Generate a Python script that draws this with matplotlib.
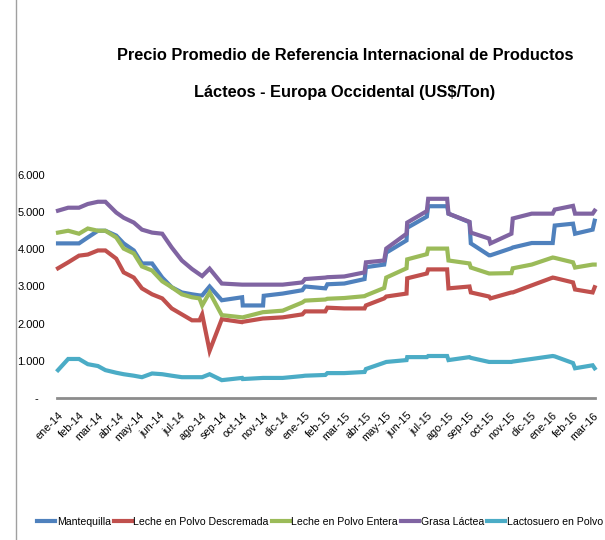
import matplotlib
matplotlib.use("Agg")
import matplotlib.pyplot as plt
from matplotlib.lines import Line2D
import pandas as pd

# --- datos (US$/Ton) ---
fechas = pd.to_datetime([
    "2014-01-01", "2014-01-16", "2014-02-01", "2014-02-14", "2014-03-01",
    "2014-03-12", "2014-03-28", "2014-04-08", "2014-04-23", "2014-05-05",
    "2014-05-20", "2014-06-04", "2014-06-18", "2014-07-03", "2014-07-18",
    "2014-07-29", "2014-08-02", "2014-08-13", "2014-08-31", "2014-09-30",
    "2014-10-01", "2014-10-31", "2014-11-01", "2014-11-29", "2014-12-28",
    "2015-01-01", "2015-01-31", "2015-02-03", "2015-02-28", "2015-03-30",
    "2015-04-01", "2015-04-28", "2015-05-01", "2015-05-31", "2015-06-01",
    "2015-06-30", "2015-07-02", "2015-07-30", "2015-08-01", "2015-09-01",
    "2015-09-03", "2015-09-30", "2015-10-02", "2015-11-02", "2015-11-04",
    "2015-12-02", "2016-01-02", "2016-01-05", "2016-02-01", "2016-02-04",
    "2016-03-01", "2016-03-04",
])

mantequilla = [
    4160, 4160, 4160, 4320, 4500, 4500, 4370, 4160, 3970, 3620,
    3620, 3240, 2980, 2840, 2790, 2760, 2760, 3000, 2630, 2710,
    2490, 2490, 2750, 2810, 2900, 3000, 2950, 3060, 3080, 3200,
    3520, 3590, 3910, 4240, 4580, 4880, 5160, 5160, 4960, 4730,
    4160, 3840, 3840, 4030, 4050, 4170, 4170, 4640, 4690, 4420,
    4530, 4770,
]
descremada = [
    3490, 3650, 3830, 3860, 3970, 3970, 3750, 3380, 3240, 2950,
    2790, 2680, 2410, 2250, 2090, 2090, 2250, 1270, 2120, 2040,
    2050, 2140, 2140, 2170, 2250, 2330, 2330, 2430, 2410, 2410,
    2490, 2680, 2730, 2810, 3220, 3350, 3460, 3460, 2950, 3000,
    2840, 2730, 2680, 2840, 2840, 3030, 3240, 3230, 3110, 2920,
    2840, 2980,
]
entera = [
    4450, 4500, 4420, 4560, 4500, 4500, 4320, 4020, 3890, 3540,
    3430, 3140, 2980, 2790, 2710, 2680, 2490, 2840, 2230, 2170,
    2170, 2310, 2310, 2350, 2570, 2620, 2650, 2670, 2690, 2740,
    2760, 2960, 3240, 3490, 3730, 3870, 4020, 4020, 3700, 3620,
    3510, 3350, 3350, 3360, 3490, 3590, 3780, 3770, 3650, 3510,
    3590, 3590,
]
grasa = [
    5040, 5120, 5120, 5220, 5280, 5280, 4990, 4850, 4720, 4530,
    4450, 4420, 4050, 3700, 3470, 3330, 3280, 3480, 3080, 3050,
    3050, 3050, 3050, 3050, 3110, 3200, 3240, 3250, 3270, 3380,
    3650, 3700, 4020, 4420, 4720, 5030, 5360, 5360, 4960, 4740,
    4450, 4290, 4160, 4420, 4830, 4960, 4960, 5070, 5170, 4960,
    4960, 5040,
]
lactosuero = [
    750, 1050, 1050, 910, 860, 750, 680, 640, 600, 560,
    660, 640, 600, 560, 560, 560, 560, 640, 480, 540,
    510, 540, 540, 540, 590, 600, 620, 670, 670, 700,
    780, 950, 970, 1020, 1100, 1100, 1130, 1130, 1020, 1100,
    1080, 970, 970, 970, 980, 1050, 1130, 1120, 940, 800,
    880, 800,
]

series = [mantequilla, descremada, entera, grasa, lactosuero]
nombres = ["Mantequilla", "Leche en Polvo Descremada", "Leche en Polvo Entera",
           "Grasa Láctea", "Lactosuero en Polvo"]
colores = ["#4F81BD", "#C0504D", "#9BBB59", "#8064A2", "#4BACC6"]

meses = pd.date_range("2014-01-01", "2016-03-01", freq="MS")
etiquetas = ["ene-14", "feb-14", "mar-14", "abr-14", "may-14", "jun-14",
             "jul-14", "ago-14", "sep-14", "oct-14", "nov-14", "dic-14",
             "ene-15", "feb-15", "mar-15", "abr-15", "may-15", "jun-15",
             "jul-15", "ago-15", "sep-15", "oct-15", "nov-15", "dic-15",
             "ene-16", "feb-16", "mar-16"]
y_ticks = [0, 1000, 2000, 3000, 4000, 5000, 6000]
y_labels = ["-  ", "1.000", "2.000", "3.000", "4.000", "5.000", "6.000"]

# --- figura ---
plt.rcParams["font.family"] = ["Liberation Sans", "DejaVu Sans"]
W, H = 605, 540
fig = plt.figure(figsize=(W / 100, H / 100), dpi=100)
ax = fig.add_axes([57 / W, 1 - 398 / H, (595 - 57) / W, (398 - 175) / H])

for vals, nom, col in zip(series, nombres, colores):
    ax.plot(fechas, vals, color=col, lw=3, label=nom,
            solid_joinstyle="miter", clip_on=False)

ax.set_xlim(pd.Timestamp("2013-12-30 12:00"), pd.Timestamp("2016-03-04 12:00"))
ax.set_ylim(0, 6000)
ax.set_xticks(meses)
ax.set_xticklabels(etiquetas, rotation=45, ha="right", va="top",
                   rotation_mode="anchor", fontsize=7.8)
ax.set_yticks(y_ticks)
ax.set_yticklabels(y_labels, fontsize=8)
ax.tick_params(axis="both", length=0)
ax.tick_params(axis="x", pad=9)
ax.tick_params(axis="y", pad=8.5)

for s in ["top", "right", "left"]:
    ax.spines[s].set_visible(False)
ax.spines["bottom"].set_color("#8C8C8C")
ax.spines["bottom"].set_linewidth(2)

# --- titulo ---
fig.text(345 / W, 1 - 55 / H,
         "Precio Promedio de Referencia Internacional de Productos",
         ha="center", va="center", fontsize=11.8, fontweight="bold")
fig.text(345 / W, 1 - 92 / H, "Lácteos - Europa Occidental (US$/Ton)",
         ha="center", va="center", fontsize=11.8, fontweight="bold")

# --- leyenda ---
fig.legend(loc="center", bbox_to_anchor=(320 / W, 1 - 522 / H), ncol=5,
           frameon=False, fontsize=7.6, handlelength=1.7, handletextpad=0.15,
           columnspacing=0.3, borderaxespad=0)

# borde a la izquierda
fig.add_artist(Line2D([16 / W, 16 / W], [0, 1], color="#A0A0A0", lw=1))

fig.savefig("out.png", dpi=100)
